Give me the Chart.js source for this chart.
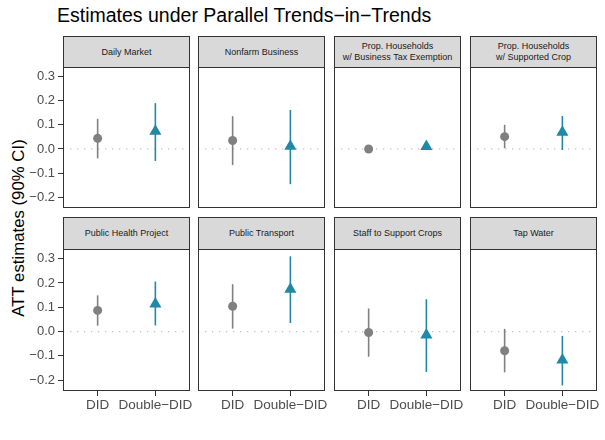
<!DOCTYPE html>
<html>
<head>
<meta charset="utf-8">
<script src="https://cdn.jsdelivr.net/npm/chart.js@4/dist/chart.umd.min.js"></script>
<style>
  body { margin: 0; background: #fff; font-family: "Liberation Sans", Arial, sans-serif; }
  #wrap { position: relative; width: 605px; height: 440px; overflow: hidden; }
  #title { position: absolute; left: 57px; top: 4px; font-size: 19.5px; color: #000; white-space: nowrap; }
  #ytitle { position: absolute; left: 19px; top: 228px; font-size: 16.8px; color: #000; white-space: nowrap;
            transform: translate(-50%, -50%) rotate(-90deg); }
  .strip { position: absolute; box-sizing: border-box; background: #d9d9d9; border: 1px solid #333;
           display: flex; align-items: center; justify-content: center; text-align: center;
           font-size: 9px; line-height: 11px; color: #1a1a1a; white-space: pre; }
  canvas { position: absolute; }
</style>
</head>
<body>
<div id="wrap">
  <div id="title">Estimates under Parallel Trends−in−Trends</div>
  <div id="ytitle">ATT estimates (90% CI)</div>
</div>
<script>
// panel names and estimates
const panels = ['Daily Market', 'Nonfarm Business', 'Prop. Households\nw/ Business Tax Exemption',
  'Prop. Households\nw/ Supported Crop', 'Public Health Project', 'Public Transport',
  'Staff to Support Crops', 'Tap Water'];
const didEst = [0.044, 0.035, 0.000, 0.051, 0.087, 0.104, -0.004, -0.079];
const didLo  = [-0.039, -0.067, -0.004, 0.003, 0.024, 0.012, -0.104, -0.168];
const didHi  = [0.125, 0.136, 0.004, 0.100, 0.149, 0.195, 0.095, 0.011];
const ddEst  = [0.073, 0.011, 0.010, 0.069, 0.113, 0.174, -0.014, -0.117];
const ddLo   = [-0.050, -0.146, 0.003, -0.004, 0.025, 0.035, -0.167, -0.222];
const ddHi   = [0.190, 0.162, 0.017, 0.137, 0.206, 0.310, 0.133, -0.018];

const xTickVals = [1, 2];
const xLabels = ['DID', 'Double−DID'];
const yTickVals = [-0.2, -0.1, 0, 0.1, 0.2, 0.3];
const yLabels = ['−0.2', '−0.1', '0.0', '0.1', '0.2', '0.3'];

const grayCol = '#808080';
const tealCol = '#2188a8';

// layout of facet grid
const colLeft = [63, 198, 334, 470];
const plotW = 127;
const rowTop = [67, 249];
const plotH = [141, 142];
const stripTop = [36, 217];
const yAxisW = 58;
const xAxisH = 28;

const panelBorder = {
  id: 'panelBorder',
  afterDraw(chart) {
    const { ctx, chartArea: a } = chart;
    ctx.save();
    ctx.strokeStyle = '#333';
    ctx.lineWidth = 1;
    ctx.strokeRect(a.left + 0.5, a.top + 0.5, a.right - a.left - 1, a.bottom - a.top - 1);
    ctx.restore();
  }
};

// keep tick labels from shrinking the panel
function noPad(s) {
  s.paddingTop = 0; s.paddingBottom = 0; s.paddingLeft = 0; s.paddingRight = 0;
}

const wrap = document.getElementById('wrap');

panels.forEach((name, i) => {
  const r = Math.floor(i / 4), c = i % 4;
  const showX = r === 1, showY = c === 0;

  const strip = document.createElement('div');
  strip.className = 'strip';
  strip.textContent = name;
  strip.style.left = colLeft[c] + 'px';
  strip.style.top = stripTop[r] + 'px';
  strip.style.width = plotW + 'px';
  strip.style.height = (rowTop[r] - stripTop[r] + 1) + 'px';
  wrap.appendChild(strip);

  const padL = showY ? yAxisW + 2 : 2;
  const padB = showX ? xAxisH + 2 : 2;
  const canvas = document.createElement('canvas');
  const w = plotW + padL + 2, h = plotH[r] + padB + 2;
  canvas.width = w; canvas.height = h;
  canvas.style.width = w + 'px'; canvas.style.height = h + 'px';
  canvas.style.left = (colLeft[c] - padL) + 'px';
  canvas.style.top = (rowTop[r] - 2) + 'px';
  wrap.appendChild(canvas);

  new Chart(canvas.getContext('2d'), {
    type: 'scatter',
    data: {
      datasets: [
        { data: [{ x: 1, y: didEst[i] }], pointStyle: 'circle', pointRadius: 4.5,
          backgroundColor: grayCol, borderWidth: 0, order: 0 },
        { data: [{ x: 2, y: ddEst[i] }], pointStyle: 'triangle', pointRadius: 7,
          backgroundColor: tealCol, borderWidth: 0, order: 0 },
        { data: [{ x: 1, y: didLo[i] }, { x: 1, y: didHi[i] }], showLine: true, pointRadius: 0,
          borderColor: grayCol, borderWidth: 1.6, order: 1 },
        { data: [{ x: 2, y: ddLo[i] }, { x: 2, y: ddHi[i] }], showLine: true, pointRadius: 0,
          borderColor: tealCol, borderWidth: 1.6, order: 1 },
        // reference line at zero
        { data: [{ x: 0.4, y: 0 }, { x: 2.6, y: 0 }], showLine: true, pointRadius: 0,
          borderColor: '#c4c4c4', borderWidth: 1.3, borderDash: [1.3, 5.7], order: 2 }
      ]
    },
    options: {
      responsive: false,
      animation: false,
      layout: { autoPadding: false, padding: { left: 2, right: 2, top: 2, bottom: 2 } },
      plugins: { legend: { display: false }, tooltip: { enabled: false } },
      scales: {
        x: {
          type: 'linear', min: 0.4, max: 2.6, display: showX,
          afterBuildTicks: s => { s.ticks = xTickVals.map(v => ({ value: v })); },
          afterFit: s => { if (showX) s.height = xAxisH; noPad(s); },
          ticks: { callback: (v, idx) => xLabels[idx], color: '#4d4d4d', padding: 1,
                   font: { size: 13.5, family: '"Liberation Sans", Arial, sans-serif' },
                   maxRotation: 0, autoSkip: false },
          grid: { drawOnChartArea: false, drawTicks: true, tickLength: 5, tickColor: '#333', tickWidth: 1 },
          border: { display: false }
        },
        y: {
          min: -0.245, max: 0.34, display: showY,
          afterBuildTicks: s => { s.ticks = yTickVals.map(v => ({ value: v })); },
          afterFit: s => { if (showY) s.width = yAxisW; noPad(s); },
          ticks: { callback: (v, idx) => yLabels[idx], color: '#4d4d4d', padding: 3,
                   font: { size: 13, family: '"Liberation Sans", Arial, sans-serif' }, autoSkip: false },
          grid: { drawOnChartArea: false, drawTicks: true, tickLength: 5, tickColor: '#333', tickWidth: 1 },
          border: { display: false }
        }
      }
    },
    plugins: [panelBorder]
  });
});
</script>
</body>
</html>
